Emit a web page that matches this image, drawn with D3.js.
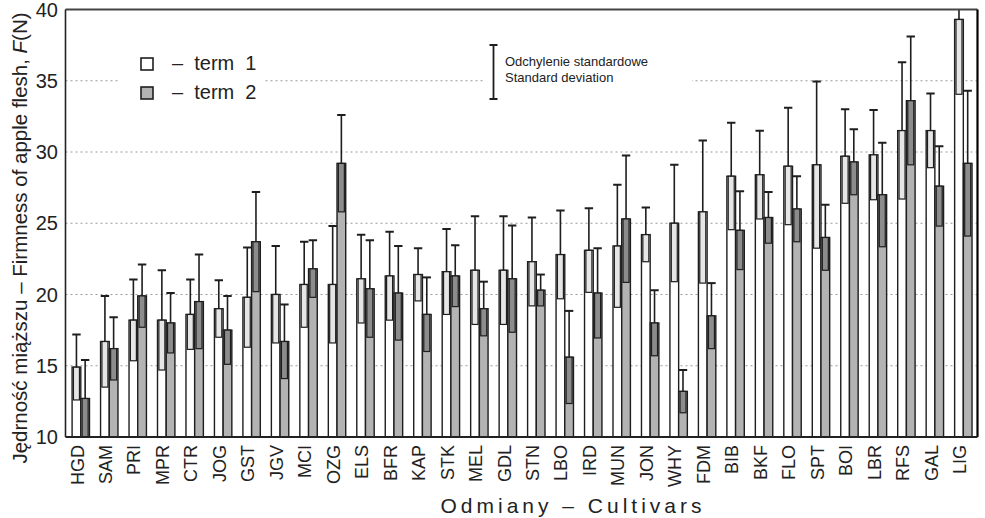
<!DOCTYPE html>
<html>
<head>
<meta charset="utf-8">
<script src="https://cdn.jsdelivr.net/npm/d3@7"></script>
<style>
  body { margin: 0; background: #fff; }
  svg text { font-family: "Liberation Sans", Arial, sans-serif; fill: #222; }
</style>
</head>
<body>
<script>
// Odmiany (cultivars) w kolejności z wykresu
var cultivars = ["HGD","SAM","PRI","MPR","CTR","JOG","GST","JGV","MCI","OZG","ELS","BFR","KAP","STK","MEL","GDL",
                 "STN","LBO","IRD","MUN","JON","WHY","FDM","BIB","BKF","FLO","SPT","BOI","LBR","RFS","GAL","LIG"];

// term 1 - średnie i odchylenia
var term1Mean = [14.9,16.7,18.2,18.2,18.6,19.0,19.8,20.0,20.7,20.7,21.1,21.3,21.4,21.6,21.7,21.7,
                 22.3,22.8,23.1,23.4,24.2,25.0,25.8,28.3,28.4,29.0,29.1,29.7,29.8,31.5,31.5,39.3];
var term1Sd   = [2.3,3.2,2.85,3.5,2.45,2.0,3.5,3.4,3.0,4.1,3.1,3.1,1.85,3.0,3.8,3.8,
                 3.1,3.1,2.95,4.3,1.9,4.1,5.0,3.75,3.1,4.1,5.85,3.3,3.15,4.8,2.6,5.25];

// term 2 - średnie i odchylenia
var term2Mean = [12.7,16.2,19.9,18.0,19.5,17.5,23.7,16.7,21.8,29.2,20.4,20.1,18.6,21.3,19.0,21.1,
                 20.3,15.6,20.1,25.3,18.0,13.2,18.5,24.5,25.4,26.0,24.0,29.3,27.0,33.6,27.6,29.2];
var term2Sd   = [2.7,2.2,2.2,2.1,3.3,2.4,3.5,2.6,2.0,3.4,3.4,3.3,2.6,2.15,1.9,3.75,
                 1.1,3.25,3.15,4.45,2.3,1.5,2.3,2.75,1.8,2.3,2.3,2.3,3.65,4.5,2.8,5.1];

var yTicks = [10, 15, 20, 25, 30, 35, 40];
var gridValues = [15, 20, 25, 30, 35];
var seriesNames = ["term  1", "term  2"];

var totalWidth = 985, totalHeight = 518;
var plot = {left: 65.5, right: 977.5, top: 9.5, bottom: 437};

// kolory: wypełnienie słupka i wewnętrznej ramki odchylenia
var fillBar = ["#ffffff", "#b3b3b3"];
var fillInner = ["#e6e6e6", "#8c8c8c"];
var strokeCol = "#1e1e1e";

var svg = d3.select("body").append("svg")
    .attr("width", totalWidth)
    .attr("height", totalHeight);

var x = d3.scaleBand().domain(cultivars).range([plot.left, plot.right - 1]);
var y = d3.scaleLinear().domain([10, 40]).range([plot.bottom, plot.top]);

var barW = 8.7;
var barOffset = 6.6;
var innerW = 6;

// dane w postaci tabeli
var rows = [];
cultivars.forEach(function(c, i) {
    rows.push({c: c, s: 0, mean: term1Mean[i], sd: term1Sd[i]});
    rows.push({c: c, s: 1, mean: term2Mean[i], sd: term2Sd[i]});
});
function barX(d) { return x(d.c) + barOffset + d.s * barW; }

svg.append("clipPath").attr("id", "clip")
  .append("rect")
    .attr("x", plot.left).attr("y", plot.top)
    .attr("width", plot.right - plot.left).attr("height", plot.bottom - plot.top);

// linie siatki
svg.append("g").selectAll("line").data(gridValues).enter().append("line")
    .attr("x1", plot.left).attr("x2", plot.right)
    .attr("y1", function(d) { return y(d); })
    .attr("y2", function(d) { return y(d); })
    .attr("stroke", "#9a9a9a")
    .attr("stroke-width", 1)
    .attr("stroke-dasharray", "2,3");

// tło pod legendami (przerywa linię 35)
svg.append("rect").attr("x", 118).attr("y", 40).attr("width", 146).attr("height", 72).attr("fill", "#fff");
svg.append("rect").attr("x", 483).attr("y", 40).attr("width", 209).attr("height", 62).attr("fill", "#fff");

var g = svg.append("g").attr("clip-path", "url(#clip)");

// słupki
g.selectAll(".bar").data(rows).enter().append("rect")
    .attr("class", "bar")
    .attr("x", barX)
    .attr("y", function(d) { return y(d.mean); })
    .attr("width", barW)
    .attr("height", function(d) { return y(10) - y(d.mean); })
    .attr("fill", function(d) { return fillBar[d.s]; })
    .attr("stroke", strokeCol)
    .attr("stroke-width", 1.4);

// ramka odchylenia poniżej średniej
g.selectAll(".inner").data(rows).enter().append("rect")
    .attr("class", "inner")
    .attr("x", function(d) { return barX(d) + (barW - innerW) / 2; })
    .attr("y", function(d) { return y(d.mean); })
    .attr("width", innerW)
    .attr("height", function(d) { return y(Math.max(10, d.mean - d.sd)) - y(d.mean); })
    .attr("fill", function(d) { return fillInner[d.s]; })
    .attr("stroke", strokeCol)
    .attr("stroke-width", 1.2);

// wąsy odchylenia powyżej średniej
g.selectAll(".whisker").data(rows).enter().append("line")
    .attr("class", "whisker")
    .attr("x1", function(d) { return barX(d) + barW / 2; })
    .attr("x2", function(d) { return barX(d) + barW / 2; })
    .attr("y1", function(d) { return y(d.mean); })
    .attr("y2", function(d) { return y(d.mean + d.sd); })
    .attr("stroke", strokeCol)
    .attr("stroke-width", 1.6);

g.selectAll(".cap").data(rows).enter().append("line")
    .attr("class", "cap")
    .attr("x1", function(d) { return barX(d) + barW / 2 - 4.2; })
    .attr("x2", function(d) { return barX(d) + barW / 2 + 4.2; })
    .attr("y1", function(d) { return y(d.mean + d.sd); })
    .attr("y2", function(d) { return y(d.mean + d.sd); })
    .attr("stroke", strokeCol)
    .attr("stroke-width", 2);

// ramka wykresu
svg.append("line").attr("x1", plot.left).attr("x2", plot.right).attr("y1", plot.top).attr("y2", plot.top)
    .attr("stroke", "#444").attr("stroke-width", 2);
svg.append("line").attr("x1", plot.right).attr("x2", plot.right).attr("y1", plot.top).attr("y2", plot.bottom)
    .attr("stroke", "#000").attr("stroke-width", 2.2);
svg.append("line").attr("x1", plot.left).attr("x2", plot.left).attr("y1", plot.top).attr("y2", plot.bottom)
    .attr("stroke", "#222").attr("stroke-width", 1.6);
svg.append("line").attr("x1", plot.left).attr("x2", plot.right).attr("y1", plot.bottom).attr("y2", plot.bottom)
    .attr("stroke", "#222").attr("stroke-width", 1.8);

// etykiety osi Y
svg.append("g").selectAll("text").data(yTicks).enter().append("text")
    .attr("x", 58)
    .attr("y", function(d) { return y(d); })
    .attr("dy", "0.36em")
    .attr("text-anchor", "end")
    .attr("font-size", "20px")
    .text(function(d) { return d; });

// etykiety odmian (pionowe)
svg.append("g").selectAll("text").data(cultivars).enter().append("text")
    .attr("transform", function(d) { return "translate(" + (x(d) + 18) + ",445) rotate(-90)"; })
    .attr("text-anchor", "end")
    .attr("font-size", "18px")
    .text(function(d) { return d; });

// tytuł osi Y
var yt = svg.append("text")
    .attr("transform", "translate(27,238) rotate(-90)")
    .attr("text-anchor", "middle")
    .attr("font-size", "20.5px");
yt.append("tspan").text("Jędrność miąższu – Firmness of apple flesh, ");
yt.append("tspan").attr("font-style", "italic").text("F");
yt.append("tspan").text("(N)");

// tytuł osi X
svg.append("text")
    .attr("x", 573).attr("y", 513)
    .attr("text-anchor", "middle")
    .attr("font-size", "21px")
    .attr("letter-spacing", "4px")
    .text("Odmiany – Cultivars");

// legenda
var leg = svg.append("g").selectAll("g").data(seriesNames).enter().append("g")
    .attr("transform", function(d, i) { return "translate(141," + (58 + i * 29) + ")"; });
leg.append("rect")
    .attr("width", 12).attr("height", 12)
    .attr("fill", function(d, i) { return fillBar[i]; })
    .attr("stroke", strokeCol).attr("stroke-width", 1.6);
leg.append("text")
    .attr("x", 31).attr("y", 12)
    .attr("font-size", "20px")
    .style("white-space", "pre")
    .text(function(d) { return "–  " + d; });

// legenda odchylenia standardowego
svg.append("line").attr("x1", 493.5).attr("x2", 493.5).attr("y1", 45).attr("y2", 99)
    .attr("stroke", strokeCol).attr("stroke-width", 1.8);
[45, 99].forEach(function(v) {
    svg.append("line").attr("x1", 489.5).attr("x2", 497.5).attr("y1", v).attr("y2", v)
        .attr("stroke", strokeCol).attr("stroke-width", 2);
});
svg.append("text").attr("x", 505).attr("y", 66).attr("font-size", "13px").text("Odchylenie standardowe");
svg.append("text").attr("x", 505).attr("y", 82).attr("font-size", "13px").text("Standard deviation");
</script>
</body>
</html>
